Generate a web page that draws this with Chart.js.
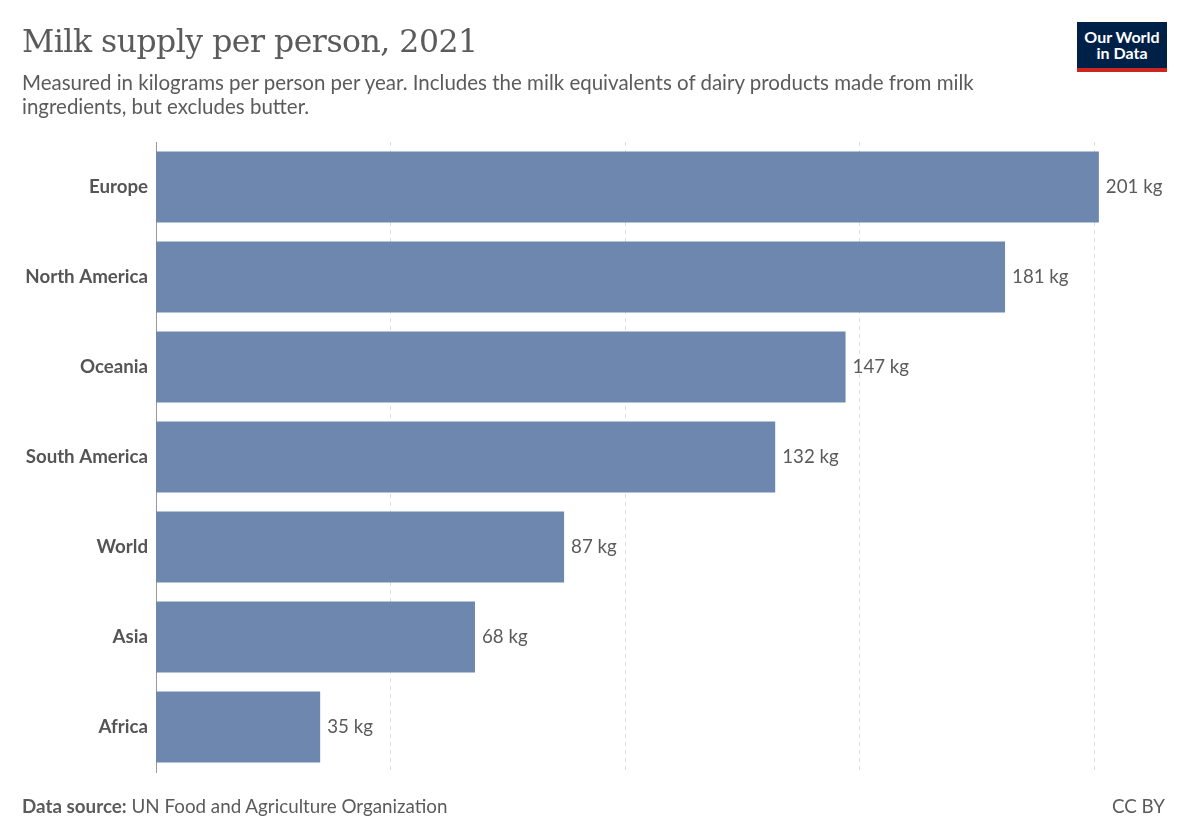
<!DOCTYPE html>
<html>
<head>
<meta charset="utf-8">
<script src="https://cdn.jsdelivr.net/npm/chart.js@4"></script>
<style>
  body { margin: 0; background: #fff; font-family: Lato, sans-serif; }
  #wrap { position: relative; width: 1190px; height: 840px; }
  #chart { position: absolute; left: 0; top: 0; }
  .title { position: absolute; left: 22px; top: 23px; font-family: "DejaVu Serif", serif; font-size: 31.5px; color: #5b5b5b; letter-spacing: -0.5px; }
  .sub { position: absolute; left: 22px; top: 70px; font-size: 20.5px; line-height: 24px; color: #5b5b5b; width: 1040px; }
  .foot { position: absolute; left: 22px; top: 794px; font-size: 18.8px; color: #5b5b5b; }
  .cc { position: absolute; right: 25px; top: 794px; font-size: 18.8px; color: #5b5b5b; }
  .logo { position: absolute; left: 1077px; top: 22px; width: 90px; background: #002147; border-bottom: 4px solid #ce261e; color: #fff; font-weight: bold; font-size: 16px; line-height: 16px; text-align: center; padding-top: 7px; height: 39px; }
</style>
</head>
<body>
<div id="wrap">
  <canvas id="chart" width="1190" height="840"></canvas>
  <div class="title">Milk supply per person, 2021</div>
  <div class="sub">Measured in kilograms per person per year. Includes the milk equivalents of dairy products made from milk<br>ingredients, but excludes butter.</div>
  <div class="foot"><b>Data source:</b> UN Food and Agriculture Organization</div>
  <div class="cc">CC BY</div>
  <div class="logo">Our World<br>in Data</div>
</div>
<script>
// regions and milk supply in kg per person
var regions = ["Europe", "North America", "Oceania", "South America", "World", "Asia", "Africa"];
var milkKg = [201, 181, 147, 132, 87, 68, 35];
var gridValues = [50, 100, 150, 200];

var barLabels = {
    id: 'barLabels',
    afterDatasetsDraw: function(chart) {
        var ctx = chart.ctx;
        var meta = chart.getDatasetMeta(0);
        ctx.save();
        ctx.font = '18.7px Lato';
        ctx.fillStyle = '#5b5b5b';
        ctx.textBaseline = 'middle';
        meta.data.forEach(function(bar, i) {
            ctx.fillText(milkKg[i] + ' kg', bar.x + 7, bar.y);
        });
        ctx.restore();
    }
};

var ctx = document.getElementById('chart').getContext('2d');
var chart = new Chart(ctx, {
    type: 'bar',
    data: {
        labels: regions,
        datasets: [{
            data: milkKg,
            backgroundColor: '#6d87ae',
            categoryPercentage: 1,
            barPercentage: 0.79
        }]
    },
    options: {
        indexAxis: 'y',
        responsive: false,
        animation: false,
        layout: { padding: { left: 0, right: 2, top: 142, bottom: 68 } },
        plugins: { legend: { display: false }, tooltip: { enabled: false } },
        scales: {
            x: {
                min: 0,
                max: 220,
                afterBuildTicks: function(scale) {
                    scale.ticks = gridValues.map(function(v) { return { value: v }; });
                },
                afterFit: function(scale) { scale.height = 0; },
                ticks: { display: false },
                border: { display: false, dash: [4, 4] },
                grid: { color: '#dddddd', lineWidth: 1, drawTicks: false }
            },
            y: {
                afterFit: function(scale) { scale.width = 156; },
                ticks: { color: '#555', font: { family: 'Lato', size: 18.7, weight: 'bold' }, padding: 8 },
                grid: { display: false, drawTicks: false },
                border: { display: true, color: '#999', width: 1 }
            }
        }
    },
    plugins: [barLabels]
});
</script>
</body>
</html>
